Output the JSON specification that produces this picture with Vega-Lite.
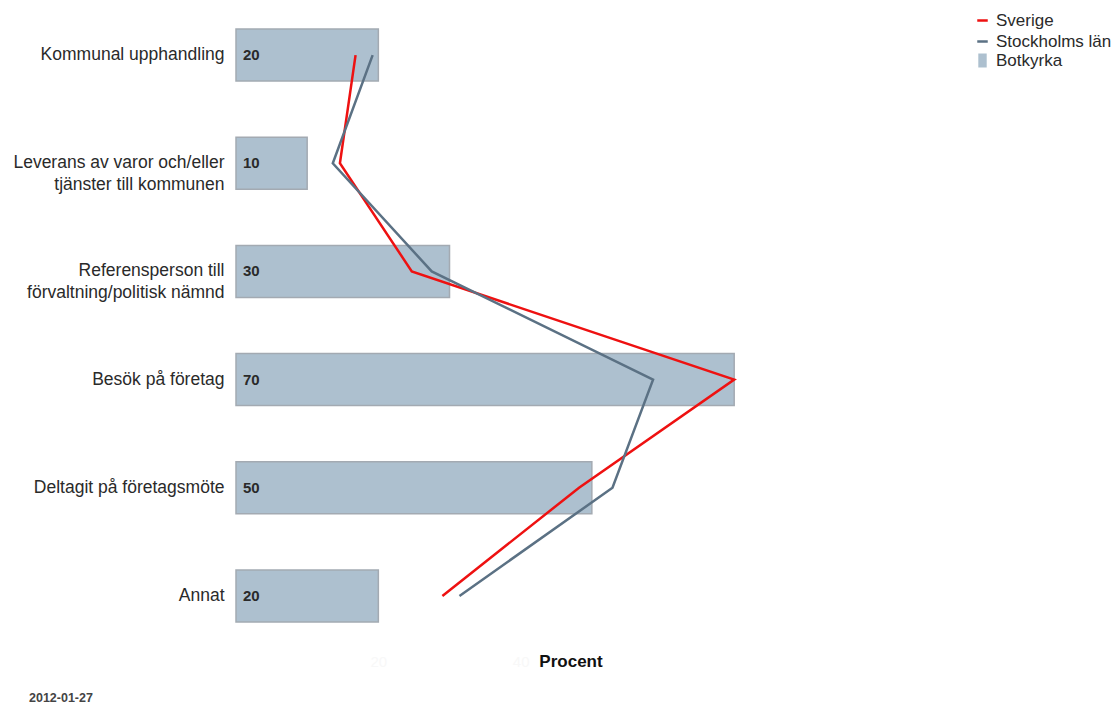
{
  "$schema": "https://vega.github.io/schema/vega-lite/v6.json",
  "autosize": {"type": "none"},
  "padding": {"left": 236, "top": 1, "right": 212, "bottom": 54},
  "width": 669,
  "height": 649,
  "background": "white",
  "title": {
    "text": "2012-01-27",
    "orient": "bottom",
    "anchor": "start",
    "frame": "group",
    "dx": -207,
    "offset": 23,
    "fontSize": 12.5,
    "fontWeight": "bold",
    "color": "#444444",
    "font": "Liberation Sans"
  },
  "config": {
    "view": {"stroke": null},
    "font": "Liberation Sans"
  },
  "datasets": {
    "bars": [
      {"kategori": "Kommunal upphandling", "ordning": 1, "serie": "Botkyrka", "procent": 20},
      {"kategori": "Leverans av varor och/eller|tjänster till kommunen", "ordning": 2, "serie": "Botkyrka", "procent": 10},
      {"kategori": "Referensperson till|förvaltning/politisk nämnd", "ordning": 3, "serie": "Botkyrka", "procent": 30},
      {"kategori": "Besök på företag", "ordning": 4, "serie": "Botkyrka", "procent": 70},
      {"kategori": "Deltagit på företagsmöte", "ordning": 5, "serie": "Botkyrka", "procent": 50},
      {"kategori": "Annat", "ordning": 6, "serie": "Botkyrka", "procent": 20}
    ],
    "lines": [
      {"kategori": "Kommunal upphandling", "ordning": 1, "serie": "Sverige", "procent": 16.8},
      {"kategori": "Leverans av varor och/eller|tjänster till kommunen", "ordning": 2, "serie": "Sverige", "procent": 14.6},
      {"kategori": "Referensperson till|förvaltning/politisk nämnd", "ordning": 3, "serie": "Sverige", "procent": 24.7},
      {"kategori": "Besök på företag", "ordning": 4, "serie": "Sverige", "procent": 70},
      {"kategori": "Deltagit på företagsmöte", "ordning": 5, "serie": "Sverige", "procent": 48.2},
      {"kategori": "Annat", "ordning": 6, "serie": "Sverige", "procent": 29.0},
      {"kategori": "Kommunal upphandling", "ordning": 1, "serie": "Stockholms län", "procent": 19.2},
      {"kategori": "Leverans av varor och/eller|tjänster till kommunen", "ordning": 2, "serie": "Stockholms län", "procent": 13.6},
      {"kategori": "Referensperson till|förvaltning/politisk nämnd", "ordning": 3, "serie": "Stockholms län", "procent": 27.5},
      {"kategori": "Besök på företag", "ordning": 4, "serie": "Stockholms län", "procent": 58.6},
      {"kategori": "Deltagit på företagsmöte", "ordning": 5, "serie": "Stockholms län", "procent": 52.9},
      {"kategori": "Annat", "ordning": 6, "serie": "Stockholms län", "procent": 31.4}
    ]
  },
  "encoding": {
    "y": {
      "field": "kategori",
      "type": "nominal",
      "sort": {"field": "ordning", "op": "min"},
      "scale": {"paddingInner": 0.52, "paddingOuter": 0.26},
      "axis": {
        "title": null,
        "domain": false,
        "ticks": false,
        "labelExpr": "split(datum.label, '|')",
        "labelFontSize": 17.5,
        "labelColor": "#2a2a2a",
        "labelLineHeight": 22,
        "labelPadding": 12,
        "labelLimit": 260
      }
    },
    "x": {
      "field": "procent",
      "type": "quantitative",
      "scale": {"domain": [0, 94], "nice": false, "zero": true},
      "axis": {
        "title": "Procent",
        "titleFontSize": 17,
        "titleFontWeight": "bold",
        "titleColor": "#111111",
        "titlePadding": -16,
        "values": [20, 40],
        "labelColor": "#f8f8f8",
        "labelFontSize": 15,
        "labelPadding": 4,
        "domain": false,
        "ticks": false,
        "grid": false
      }
    }
  },
  "layer": [
    {
      "data": {"name": "bars"},
      "mark": {"type": "bar", "stroke": "#a3aab2", "strokeWidth": 1.5, "cornerRadius": 0},
      "encoding": {
        "fill": {
          "field": "serie",
          "type": "nominal",
          "scale": {"domain": ["Botkyrka"], "range": ["#adc0cf"]},
          "legend": {
            "title": null,
            "orient": "none",
            "legendX": 738,
            "legendY": 51,
            "symbolType": "M-0.6,-1H0.6V1H-0.6Z",
            "symbolSize": 196,
            "symbolStrokeWidth": 0,
            "labelFontSize": 17,
            "labelColor": "#2a2a2a",
            "labelOffset": 5
          }
        }
      }
    },
    {
      "data": {"name": "bars"},
      "mark": {"type": "text", "align": "left", "dx": 7, "fontSize": 15, "fontWeight": "bold", "color": "#2a2a2a"},
      "encoding": {
        "x": {"datum": 0, "type": "quantitative"},
        "text": {"field": "procent", "type": "quantitative", "format": ".0f"}
      }
    },
    {
      "data": {"name": "lines"},
      "mark": {"type": "line", "strokeWidth": 2.5},
      "encoding": {
        "order": {"field": "ordning", "type": "quantitative"},
        "stroke": {
          "field": "serie",
          "type": "nominal",
          "sort": ["Sverige", "Stockholms län"],
          "scale": {"domain": ["Sverige", "Stockholms län"], "range": ["#ee1111", "#5b7184"]},
          "legend": {
            "title": null,
            "orient": "none",
            "legendX": 738,
            "legendY": 11,
            "symbolType": "stroke",
            "symbolSize": 110,
            "symbolStrokeWidth": 2.5,
            "rowPadding": 3,
            "labelFontSize": 17,
            "labelColor": "#2a2a2a",
            "labelOffset": 5
          }
        }
      }
    }
  ]
}
